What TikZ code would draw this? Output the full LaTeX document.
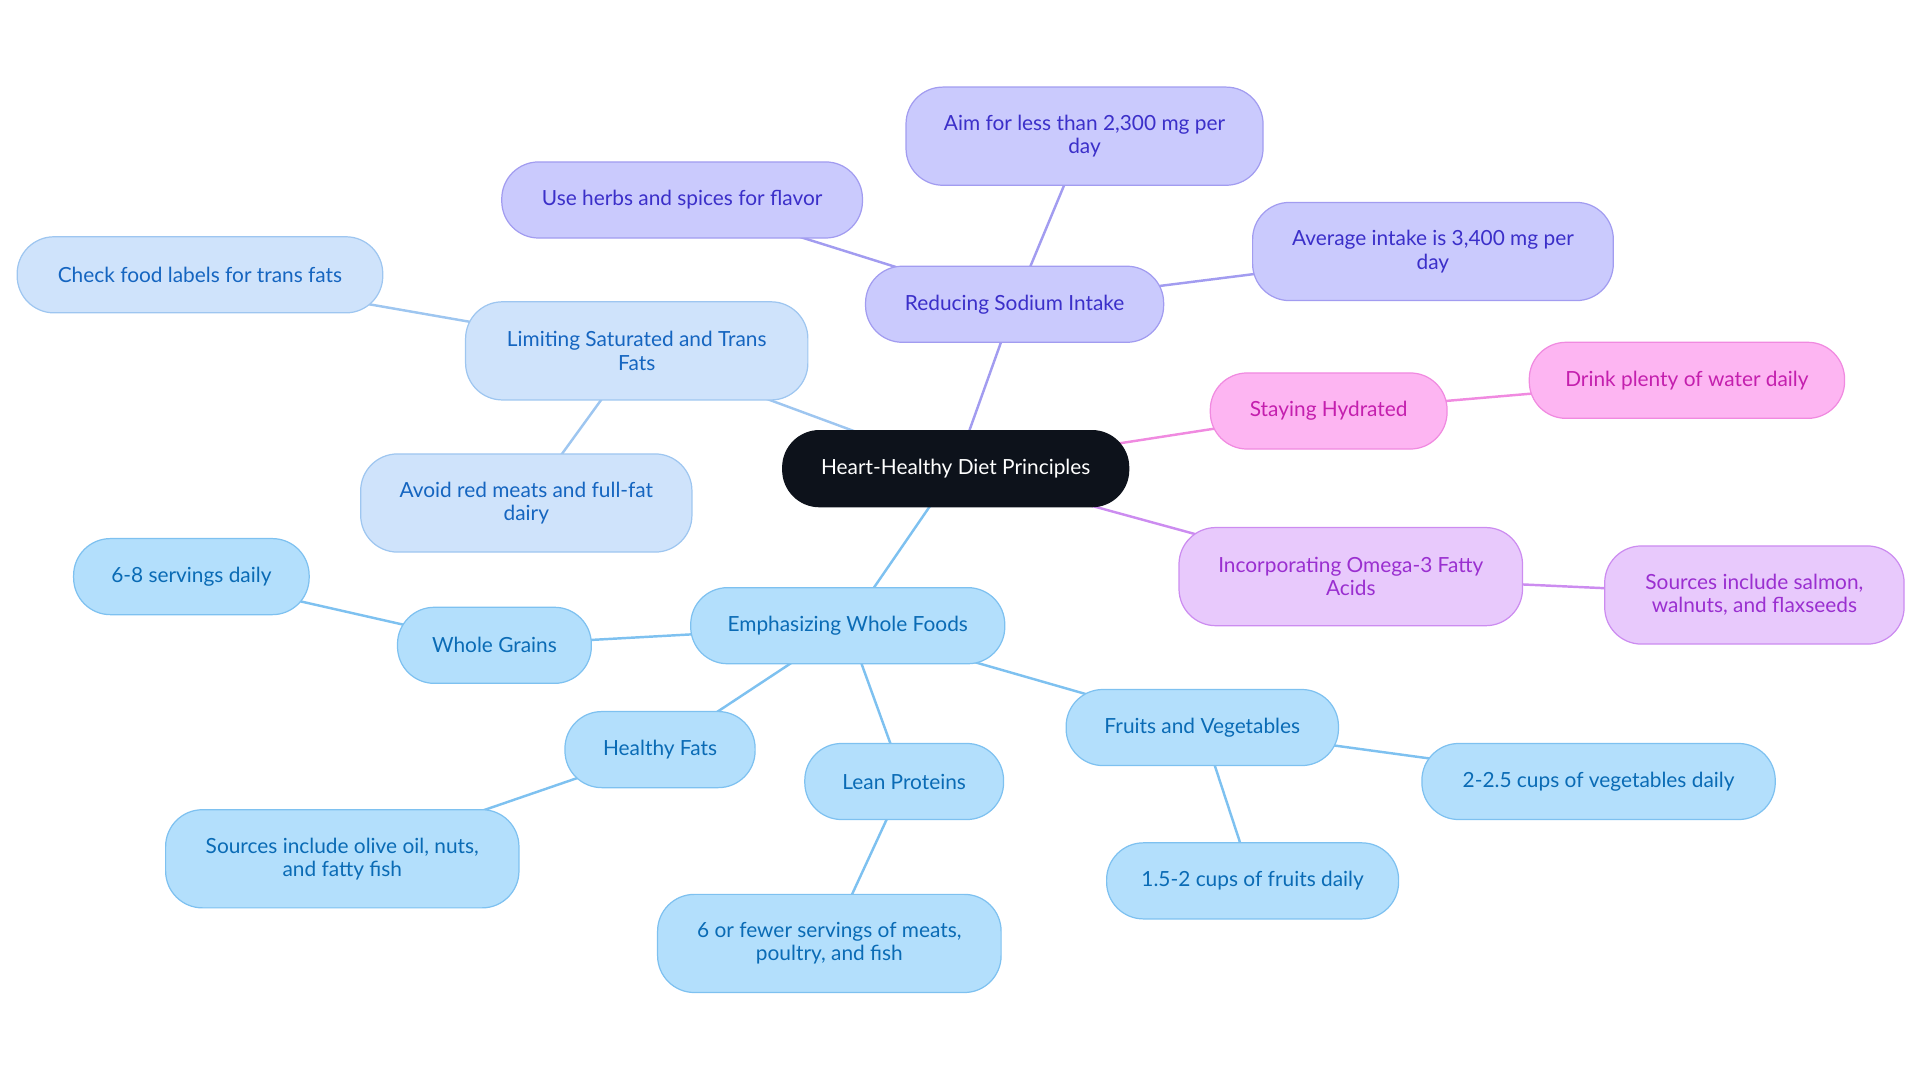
\documentclass[tikz,border=0pt]{standalone}
\usepackage{fontspec}
\setmainfont{Lato}
\begin{document}
\begin{tikzpicture}[x=1pt,y=-1pt,font=\fontsize{17}{19}\selectfont]
  \tikzset{
    box/.style={
      rounded corners=30pt,
      draw,
      line width=1pt,
      align=center,
      minimum height=62pt,
      text centered},
    root/.style={box, fill=rootc, draw=rootc, text=white},
    sodium/.style={box, fill=sodf, draw=sodd, text=sodt},
    fats/.style={box, fill=fatf, draw=fatd, text=fatt},
    whole/.style={box, fill=whf, draw=whd, text=wht},
    hydra/.style={box, fill=hyf, draw=hyd, text=hyt},
    omega/.style={box, fill=omf, draw=omd, text=omt},
    link/.style={line width=2pt}}
  \definecolor{rootc}{HTML}{0D121B}
  \definecolor{sodf}{HTML}{CACAFD}\definecolor{sodd}{HTML}{A29CF0}\definecolor{sodt}{HTML}{3B2FC9}
  \definecolor{fatf}{HTML}{CFE3FB}\definecolor{fatd}{HTML}{9EC6F0}\definecolor{fatt}{HTML}{1565C0}
  \definecolor{whf}{HTML}{B3DFFC}\definecolor{whd}{HTML}{7EC1F0}\definecolor{wht}{HTML}{0A6BB5}
  \definecolor{hyf}{HTML}{FDB5F2}\definecolor{hyd}{HTML}{F08AE0}\definecolor{hyt}{HTML}{C41FAE}
  \definecolor{omf}{HTML}{E8C9FC}\definecolor{omd}{HTML}{CC8CF0}\definecolor{omt}{HTML}{9A2FD0}

  \useasboundingbox (0,0) rectangle (1565,883);

  % connectors first, boxes drawn on top
  \coordinate (c-root) at (779,382);
  \coordinate (c-sod) at (827,248);
  \coordinate (c-aim) at (884,111);
  \coordinate (c-herb) at (556,163);
  \coordinate (c-avg) at (1168,205);
  \coordinate (c-fats) at (519,286);
  \coordinate (c-check) at (163,224);
  \coordinate (c-avoid) at (429,410);
  \coordinate (c-hyd) at (1083,335);
  \coordinate (c-water) at (1375,310);
  \coordinate (c-omega) at (1101,470);
  \coordinate (c-salmon) at (1430,485);
  \coordinate (c-whole) at (691,510);
  \coordinate (c-grain) at (403,526);
  \coordinate (c-serv) at (156,470);
  \coordinate (c-hfat) at (538,611);
  \coordinate (c-olive) at (279,700);
  \coordinate (c-lean) at (737,637);
  \coordinate (c-meat) at (676,769);
  \coordinate (c-fv) at (980,593);
  \coordinate (c-veg) at (1303,637);
  \coordinate (c-fruit) at (1021,718);

  \draw[link, sodd] (c-root) -- (c-sod);
  \draw[link, sodd] (c-sod) -- (c-aim);
  \draw[link, sodd] (c-sod) -- (c-herb);
  \draw[link, sodd] (c-sod) -- (c-avg);
  \draw[link, fatd] (c-root) -- (c-fats);
  \draw[link, fatd] (c-fats) -- (c-check);
  \draw[link, fatd] (c-fats) -- (c-avoid);
  \draw[link, hyd] (c-root) -- (c-hyd);
  \draw[link, hyd] (c-hyd) -- (c-water);
  \draw[link, omd] (c-root) -- (c-omega);
  \draw[link, omd] (c-omega) -- (c-salmon);
  \draw[link, whd] (c-root) -- (c-whole);
  \draw[link, whd] (c-whole) -- (c-grain);
  \draw[link, whd] (c-grain) -- (c-serv);
  \draw[link, whd] (c-whole) -- (c-hfat);
  \draw[link, whd] (c-hfat) -- (c-olive);
  \draw[link, whd] (c-whole) -- (c-lean);
  \draw[link, whd] (c-lean) -- (c-meat);
  \draw[link, whd] (c-whole) -- (c-fv);
  \draw[link, whd] (c-fv) -- (c-veg);
  \draw[link, whd] (c-fv) -- (c-fruit);

  \node[root, minimum width=282pt] (root) at (c-root) {Heart-Healthy Diet Principles};
  \node[sodium, minimum width=243pt] (sod) at (c-sod) {Reducing Sodium Intake};
  \node[sodium, minimum width=291pt, minimum height=80pt] (aim) at (c-aim) {Aim for less than 2,300 mg per\\day};
  \node[sodium, minimum width=294pt] (herb) at (c-herb) {Use herbs and spices for flavor};
  \node[sodium, minimum width=294pt, minimum height=80pt] (avg) at (c-avg) {Average intake is 3,400 mg per\\day};
  \node[fats, minimum width=279pt, minimum height=80pt] (fats) at (c-fats) {Limiting Saturated and Trans\\Fats};
  \node[fats, minimum width=298pt] (check) at (c-check) {Check food labels for trans fats};
  \node[fats, minimum width=270pt, minimum height=80pt] (avoid) at (c-avoid) {Avoid red meats and full-fat\\dairy};
  \node[hydra, minimum width=193pt] (hyd) at (c-hyd) {Staying Hydrated};
  \node[hydra, minimum width=257pt] (water) at (c-water) {Drink plenty of water daily};
  \node[omega, minimum width=280pt, minimum height=80pt] (omega) at (c-omega) {Incorporating Omega-3 Fatty\\Acids};
  \node[omega, minimum width=244pt, minimum height=80pt] (salmon) at (c-salmon) {Sources include salmon,\\walnuts, and flaxseeds};
  \node[whole, minimum width=256pt] (whole) at (c-whole) {Emphasizing Whole Foods};
  \node[whole, minimum width=158pt] (grain) at (c-grain) {Whole Grains};
  \node[whole, minimum width=192pt] (serv) at (c-serv) {6-8 servings daily};
  \node[whole, minimum width=155pt] (hfat) at (c-hfat) {Healthy Fats};
  \node[whole, minimum width=288pt, minimum height=80pt] (olive) at (c-olive) {Sources include olive oil, nuts,\\and fatty fish};
  \node[whole, minimum width=162pt] (lean) at (c-lean) {Lean Proteins};
  \node[whole, minimum width=280pt, minimum height=80pt] (meat) at (c-meat) {6 or fewer servings of meats,\\poultry, and fish};
  \node[whole, minimum width=222pt] (fv) at (c-fv) {Fruits and Vegetables};
  \node[whole, minimum width=288pt] (veg) at (c-veg) {2-2.5 cups of vegetables daily};
  \node[whole, minimum width=238pt] (fruit) at (c-fruit) {1.5-2 cups of fruits daily};
\end{tikzpicture}
\end{document}
